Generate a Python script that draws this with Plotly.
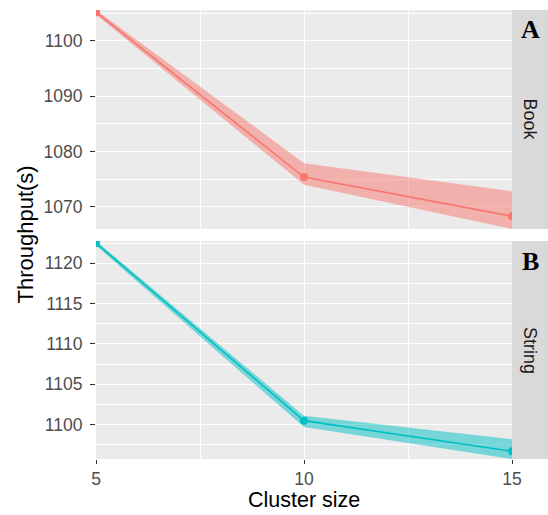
import plotly.graph_objects as go

cluster_size = [5, 10, 15]
book_mean = [1105.2, 1075.4, 1068.3]
book_low = [1104.8, 1074.0, 1066.0]
book_high = [1105.6, 1077.9, 1072.8]
string_mean = [1122.5, 1100.5, 1096.7]
string_low = [1122.2, 1099.7, 1095.75]
string_high = [1122.76, 1101.1, 1098.2]
panels = ["Book", "String"]
panel_letters = ["A", "B"]

colors = ["#F8766D", "#00BFC4"]
fills = ["rgba(248,118,109,0.5)", "rgba(0,191,196,0.5)"]

fig = go.Figure()
series = [(book_mean, book_low, book_high), (string_mean, string_low, string_high)]
axes = [("x", "y"), ("x2", "y2")]
for i, (m, lo, hi) in enumerate(series):
    xa, ya = axes[i]
    fig.add_trace(go.Scatter(x=cluster_size + cluster_size[::-1], y=hi + lo[::-1],
                             fill="toself", fillcolor=fills[i], line=dict(width=0),
                             mode="lines", hoverinfo="skip", showlegend=False,
                             xaxis=xa, yaxis=ya))
    fig.add_trace(go.Scatter(x=cluster_size, y=m, mode="lines+markers",
                             line=dict(color=colors[i], width=1.6),
                             marker=dict(color=colors[i], size=8),
                             showlegend=False, cliponaxis=True, xaxis=xa, yaxis=ya))

H = 449.0
W = 416.0
FONT = "Liberation Sans, Arial, sans-serif"
gridc = "white"
tickfont = dict(family=FONT, size=17.5, color="#4D4D4D")
common_x = dict(range=[5, 15], tickvals=[5, 10, 15], showgrid=True, gridcolor=gridc, gridwidth=1.2,
                minor=dict(tickvals=[7.5, 12.5], showgrid=True, gridcolor=gridc, gridwidth=0.6),
                zeroline=False, showline=False, ticks="outside", ticklen=4, tickwidth=1,
                tickcolor="#333333", tickfont=tickfont)
common_y = dict(showgrid=True, gridcolor=gridc, gridwidth=1.2, zeroline=False, showline=False,
                ticks="outside", ticklen=5, tickwidth=1, tickcolor="#333333", tickfont=tickfont,
                ticklabelstandoff=4)

fig.update_layout(
    width=548, height=515,
    margin=dict(l=96, r=36, t=10, b=56),
    paper_bgcolor="white", plot_bgcolor="#EBEBEB",
    xaxis=dict(common_x, anchor="y", showticklabels=False, ticks="", matches="x2"),
    xaxis2=dict(common_x, anchor="y2"),
    yaxis=dict(common_y, domain=[230 / H, 1], range=[1066.0, 1105.6], tickvals=[1070, 1080, 1090, 1100],
               minor=dict(tickvals=[1075, 1085, 1095, 1105], showgrid=True, gridcolor=gridc, gridwidth=0.6)),
    yaxis2=dict(common_y, domain=[0, 218 / H], range=[1095.75, 1122.76], tickvals=[1100, 1105, 1110, 1115, 1120],
                minor=dict(tickvals=[1097.5, 1102.5, 1107.5, 1112.5, 1117.5, 1122.5], showgrid=True, gridcolor=gridc, gridwidth=0.6)),
)

fig.add_annotation(text="Throughput(s)", xref="paper", yref="paper", x=(25 - 96) / W, y=0.5,
                   textangle=-90, showarrow=False, xanchor="center", yanchor="middle",
                   font=dict(family=FONT, size=22, color="black"))
fig.add_annotation(text="Cluster size", xref="paper", yref="paper", x=(304 - 96) / W, y=(459 - 500) / H,
                   showarrow=False, xanchor="center", yanchor="middle",
                   font=dict(family=FONT, size=21.5, color="black"))

strip_w = 36 / W
doms = [(230 / H, 1), (0, 218 / H)]
for i, (y0, y1) in enumerate(doms):
    fig.add_shape(type="rect", xref="paper", yref="paper", x0=1, x1=1 + strip_w, y0=y0, y1=y1,
                  fillcolor="#D9D9D9", line=dict(width=0), layer="below")
    fig.add_annotation(text=panels[i], xref="paper", yref="paper", x=1 + strip_w / 2, y=(y0 + y1) / 2,
                       textangle=90, showarrow=False, xanchor="center", yanchor="middle",
                       font=dict(family=FONT, size=18, color="#1A1A1A"))
    fig.add_annotation(text="<b>" + panel_letters[i] + "</b>", xref="paper", yref="paper",
                       x=1 + strip_w / 2, y=y1 - 20 / H, showarrow=False, xanchor="center", yanchor="middle",
                       font=dict(family="Liberation Serif, Times New Roman, serif", size=26, color="black"))

fig.write_html("out.html")
